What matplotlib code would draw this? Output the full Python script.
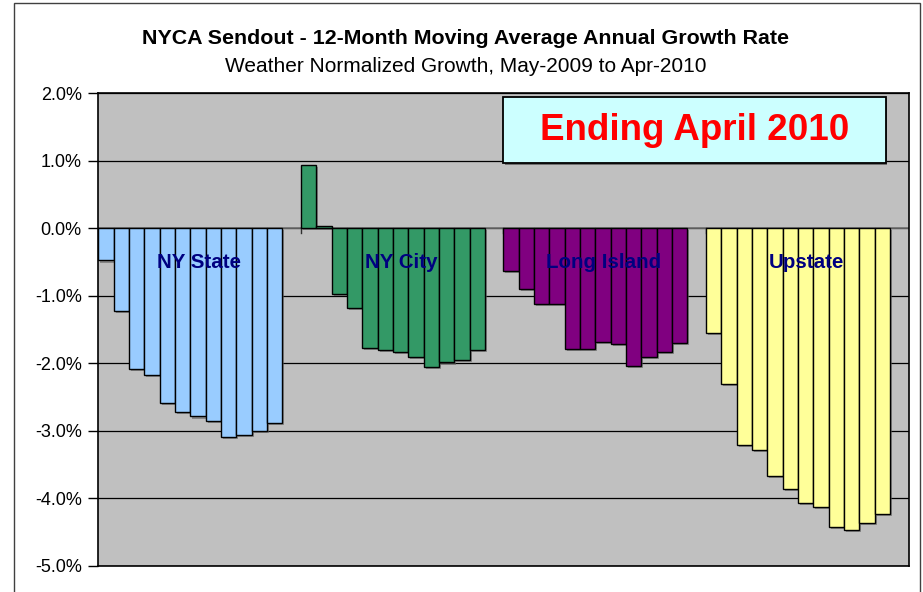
import matplotlib
matplotlib.use("Agg")
import matplotlib.pyplot as plt
import matplotlib.patheffects as pe
from matplotlib.patches import Rectangle
import numpy as np

plt.rcParams['font.family'] = ['Liberation Sans', 'DejaVu Sans']

months = ["May-09", "Jun-09", "Jul-09", "Aug-09", "Sep-09", "Oct-09",
          "Nov-09", "Dec-09", "Jan-10", "Feb-10", "Mar-10", "Apr-10"]
regions = ["NY State", "NY City", "Long Island", "Upstate"]
ny_state = [-0.48, -1.23, -2.09, -2.17, -2.59, -2.72, -2.79, -2.85, -3.09, -3.07, -3.01, -2.89]
ny_city = [0.93, 0.035, -0.98, -1.18, -1.78, -1.80, -1.83, -1.91, -2.06, -1.99, -1.96, -1.80]
long_island = [-0.64, -0.90, -1.12, -1.12, -1.79, -1.79, -1.68, -1.72, -2.04, -1.91, -1.84, -1.70]
upstate = [-1.55, -2.31, -3.21, -3.29, -3.67, -3.87, -4.07, -4.13, -4.42, -4.47, -4.37, -4.23]
colors = ["#99CCFF", "#339966", "#800080", "#FFFF99"]
yticks = [2.0, 1.0, 0.0, -1.0, -2.0, -3.0, -4.0, -5.0]
title = "NYCA Sendout - 12-Month Moving Average Annual Growth Rate"
subtitle = "Weather Normalized Growth, May-2009 to Apr-2010"
box_text = "Ending April 2010"

series = [ny_state, ny_city, long_island, upstate]

fig = plt.figure(figsize=(9.23, 5.92), dpi=100)
# outer chart frame
fig.patches.append(Rectangle((14 / 923, -0.05), (920 - 14) / 923, 1 - 3 / 592 + 0.05,
                             transform=fig.transFigure, fill=False,
                             edgecolor="#404040", linewidth=1.0))

ax = fig.add_axes([98.3 / 923, 1 - 565.7 / 592, (908.5 - 98.3) / 923, (565.7 - 93) / 592])
ax.set_facecolor("#C0C0C0")

cat_w = 13.21
n = len(months)
shadow = [pe.SimplePatchShadow(offset=(1.5, -1.5), shadow_rgbFace="#606060", alpha=0.6), pe.Normal()]
for g, (vals, col) in enumerate(zip(series, colors)):
    x = g * cat_w + np.arange(n) + 0.5
    bars = ax.bar(x, vals, width=1.0, color=col, edgecolor="black", linewidth=1.0, zorder=3)
    for b in bars:
        b.set_path_effects(shadow)
    ax.text(g * cat_w + n / 2 + 0.55, -0.586, regions[g], color="#000080", fontsize=14.8,
            fontweight="bold", ha="center", va="baseline", zorder=5)

ax.set_xlim(0, 4 * cat_w)
ax.set_ylim(-5.0, 2.0)
ax.set_yticks(yticks)
ax.set_yticklabels([f"{v:.1f}%" for v in yticks], fontsize=13)
ax.tick_params(axis="y", length=7, width=1, pad=5, colors="black")
ax.set_xticks([])
ax.grid(axis="y", color="black", linewidth=0.9, zorder=1)
ax.set_axisbelow(True)
ax.axhline(0, color="#707070", linewidth=1.2, zorder=2)
for k in range(1, 4):
    ax.plot([k * cat_w, k * cat_w], [0, -0.08], color="#303030", linewidth=1.0, zorder=2)
for s in ax.spines.values():
    s.set_color("black")
    s.set_linewidth(1.2)

fig.text(466 / 923, 1 - 44 / 592, title, ha="center", va="baseline", fontsize=15.4, fontweight="bold")
fig.text(466 / 923, 1 - 72 / 592, subtitle, ha="center", va="baseline", fontsize=15.0)

# text box
bx0, bx1 = 503.3 / 923, 885.7 / 923
by0, by1 = 1 - 163.3 / 592, 1 - 96.7 / 592
fig.patches.append(Rectangle((bx0 + 1.5 / 923, by0 - 1.5 / 592), bx1 - bx0, by1 - by0,
                             transform=fig.transFigure, facecolor="#707070", edgecolor="none", zorder=4))
fig.patches.append(Rectangle((bx0, by0), bx1 - bx0, by1 - by0, transform=fig.transFigure,
                             facecolor="#CCFFFF", edgecolor="black", linewidth=1.3, zorder=5))
fig.text((bx0 + bx1) / 2, 1 - 131 / 592, box_text, ha="center", va="center", color="#FF0000",
         fontsize=26.5, fontweight="bold", zorder=6)

fig.savefig("out.png", dpi=100)
